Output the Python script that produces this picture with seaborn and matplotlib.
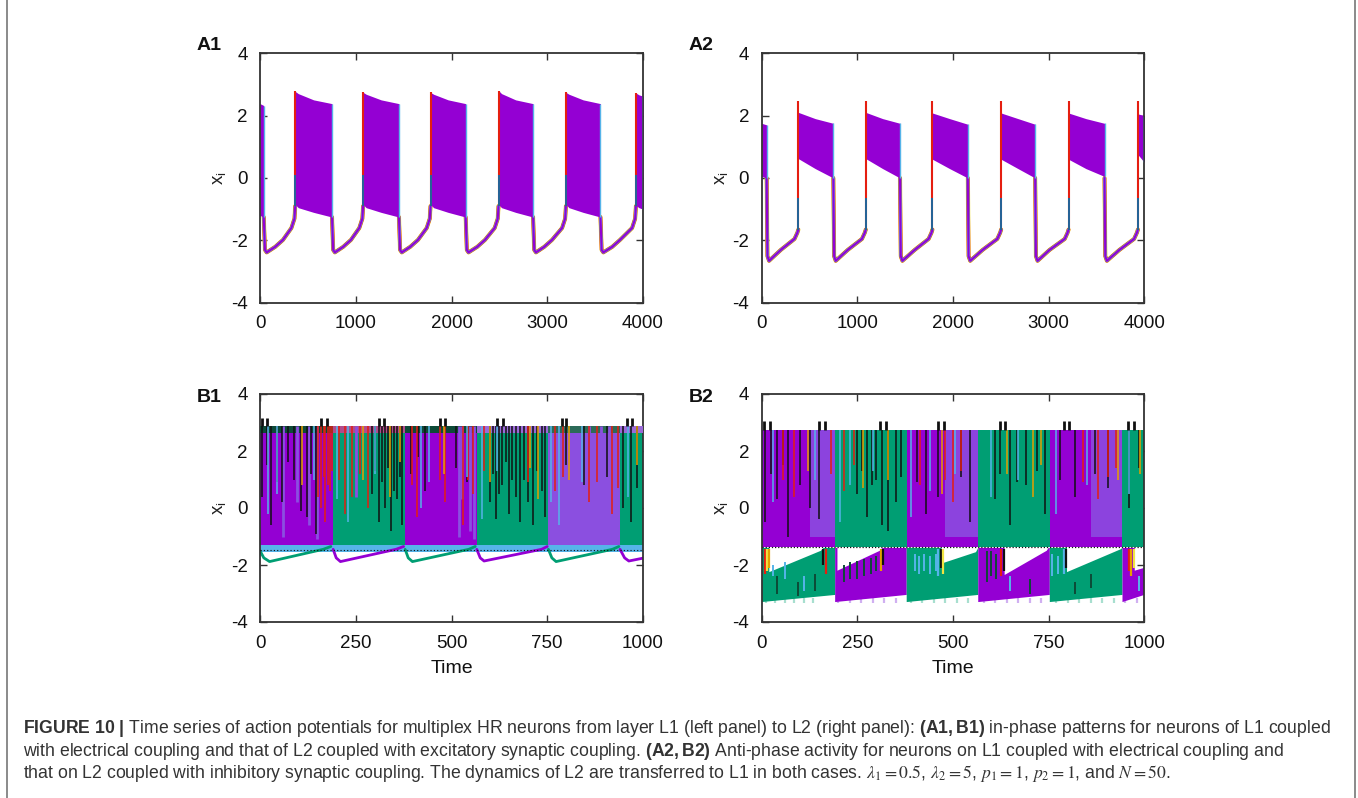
import matplotlib
matplotlib.use("Agg")
import matplotlib.pyplot as plt
import pandas as pd
import seaborn as sns

sns.set_theme(style="ticks")
plt.rcParams["font.family"] = ["Liberation Sans", "DejaVu Sans"]
plt.rcParams["mathtext.fontset"] = "custom"
plt.rcParams["mathtext.rm"] = "Liberation Sans"
plt.rcParams["mathtext.bf"] = "Liberation Sans:bold"
plt.rcParams["mathtext.it"] = "Liberation Sans:italic"

# gnuplot default line colours
PURPLE = "#9400d3"
GREEN = "#009e73"
SKY = "#56b4e9"
ORANGE = "#e69f00"
YELLOW = "#f0e442"
BLUE = "#0072b2"
RED = "#e51e10"
BLACK = "#101010"
LAVENDER = "#8b4fe0"
DARKGREEN = "#0d4a37"
PALEGREEN = "#6fcbb0"
PALEPURPLE = "#b27ae8"

# ---------------- A1: layer L1, electrical coupling (in-phase) ----------------
a1_burst_t = [[0, 39], [368, 400, 560, 752], [1077, 1109, 1265, 1451],
              [1781, 1813, 1965, 2148], [2491, 2523, 2670, 2852],
              [3195, 3227, 3375, 3556], [3926, 3958, 4000]]
a1_burst_top = [[2.38, 2.32], [2.77, 2.70, 2.50, 2.38], [2.74, 2.68, 2.50, 2.38],
                [2.74, 2.68, 2.50, 2.38], [2.80, 2.70, 2.50, 2.38],
                [2.74, 2.68, 2.50, 2.38], [2.72, 2.66, 2.62]]
a1_burst_bot = [[-1.20, -1.25], [-0.85, -0.95, -1.10, -1.25], [-0.85, -0.95, -1.10, -1.25],
                [-0.85, -0.95, -1.10, -1.25], [-0.85, -0.95, -1.10, -1.25],
                [-0.85, -0.95, -1.10, -1.25], [-0.88, -0.95, -1.00]]
a1_rest_t = [[39, 52, 70, 160, 240, 328, 360, 368],
             [752, 764, 782, 870, 950, 1037, 1069, 1077],
             [1451, 1463, 1481, 1570, 1650, 1741, 1773, 1781],
             [2148, 2160, 2178, 2270, 2350, 2451, 2483, 2491],
             [2852, 2864, 2882, 2970, 3050, 3155, 3187, 3195],
             [3556, 3568, 3586, 3680, 3760, 3886, 3918, 3926]]
a1_rest_x = [[-1.25, -2.30, -2.38, -2.20, -1.98, -1.60, -1.30, -0.90]] * 6

# ---------------- A2: layer L1, electrical coupling (anti-phase) ----------------
a2_burst_t = [[0, 52], [383, 560, 749], [1088, 1265, 1446], [1785, 1965, 2155],
              [2503, 2680, 2859], [3208, 3390, 3584], [3933, 4000]]
a2_burst_top = [[1.75, 1.70], [2.10, 1.90, 1.75], [2.10, 1.90, 1.75], [2.08, 1.90, 1.72],
                [2.08, 1.90, 1.72], [2.08, 1.90, 1.75], [2.05, 2.00]]
a2_burst_bot = [[0.05, 0.00], [0.62, 0.30, 0.00], [0.62, 0.30, 0.00], [0.60, 0.30, 0.00],
                [0.60, 0.30, 0.00], [0.60, 0.30, 0.05], [0.75, 0.50]]
a2_onset_peak = 2.45
a2_rest_t = [[52, 60, 77, 200, 343, 373, 383],
             [749, 757, 774, 900, 1048, 1078, 1088],
             [1446, 1454, 1471, 1600, 1745, 1775, 1785],
             [2155, 2163, 2180, 2310, 2463, 2493, 2503],
             [2859, 2867, 2884, 3010, 3168, 3198, 3208],
             [3584, 3592, 3609, 3740, 3893, 3923, 3933]]
a2_rest_x = [[0.00, -2.50, -2.65, -2.30, -1.95, -1.75, -1.65]] * 6

# ---------------- B1: layer L2, excitatory synaptic coupling ----------------
b1_edges = [0, 191, 379, 566, 753, 940, 1000]
b1_fill = [PURPLE, GREEN, PURPLE, GREEN, LAVENDER, GREEN]
b1_cap = [DARKGREEN, "#b04c8c", DARKGREEN, "#9a6ad8", "#2c6b58", "#9a6ad8"]
b1_top, b1_low = 2.88, -1.30
b1_strip = (-1.55, -1.25)
b1_rest_t = [[0, 10, 25, 165, 185], [191, 199, 210, 355, 375], [379, 387, 398, 545, 562],
             [566, 575, 585, 735, 750], [753, 762, 773, 920, 937], [940, 952, 963, 1000]]
b1_rest_x = [[-1.50, -1.75, -1.88, -1.45, -1.35], [-1.45, -1.75, -1.88, -1.45, -1.35],
             [-1.45, -1.75, -1.88, -1.45, -1.35], [-1.45, -1.75, -1.86, -1.45, -1.35],
             [-1.45, -1.75, -1.88, -1.45, -1.35], [-1.45, -1.75, -1.86, -1.76]]
b1_rest_c = [GREEN, PURPLE, GREEN, PURPLE, GREEN, PURPLE]
b1_bump_t = [4, 18, 160, 174, 310, 324, 470, 484, 620, 634, 788, 800, 958, 970]
b1_bump_top = 3.15
b1_dark_t = [6, 18, 30, 44, 58, 74, 90, 106, 122, 134, 146, 292, 300, 310, 318, 326, 334,
             342, 350, 358, 365, 372, 395, 412, 430, 512, 540, 600, 608, 615, 624, 632, 641,
             650, 659, 668, 679, 690, 701, 712, 724, 735, 745, 800, 845, 905, 948, 968, 985]
b1_dark_low = [0.4, 1.5, -0.6, 0.9, 0.2, 1.6, 1.0, -0.1, -0.3, 1.2, -0.9, 0.5, 1.3, -0.5,
               0.9, 0.0, 1.4, -0.8, 0.6, 0.3, 1.1, -0.6, 1.2, 1.8, 0.6, 1.4, 0.9, 0.2, 1.2,
               -0.4, 0.5, 0.8, 1.6, -0.2, 1.0, 0.4, -0.5, 1.0, 0.2, -0.6, 1.3, 0.6, -0.3, 1.5,
               0.8, 1.1, 0.0, -0.5, 0.7]
b1_red_t = [152, 160, 166, 171, 177, 182, 188, 205, 222, 240, 262, 281, 398, 410, 470, 482,
            530, 544, 556, 585, 700, 770, 792, 860, 880, 920, 934]
b1_red_low = [0.4, 0.0, 1.1, -0.5, 0.8, 0.6, 1.3, 1.0, -0.2, 0.4, 1.2, 0.0, 0.8, -0.3, 1.0,
              0.2, -0.6, 1.0, 0.5, 1.3, 0.9, 0.6, 1.1, 0.2, 0.9, -0.2, 0.7]
b1_orange_t = [110, 270, 340, 365, 480, 600, 705, 725, 808, 985]
b1_orange_low = [0.8, 1.0, 0.4, 1.6, 1.2, 0.9, 1.4, 0.3, 1.0, 1.5]
b1_sky_t = [20, 45, 140, 200, 230, 300, 420, 440, 540, 580, 620, 760, 780, 840, 960]
b1_sky_low = [-0.2, 0.5, 1.0, 0.3, -0.5, 1.2, 0.0, 0.9, 1.1, -0.4, 1.3, 0.2, -0.6, 0.9, 0.4]
b1_lav_t = [60, 96, 128, 150, 250, 520, 528, 548, 560, 860, 890, 912]
b1_lav_low = [-1.0, 0.2, -0.6, -1.1, 0.4, -1.0, 0.3, -0.8, -1.1, 0.5, -0.4, 0.1]

# ---------------- B2: layer L2, inhibitory synaptic coupling ----------------
b2_edges = [0, 192, 379, 566, 753, 943, 1000]
b2_fill = [PURPLE, GREEN, PURPLE, GREEN, PURPLE, GREEN]
b2_lower_fill = [GREEN, PURPLE, GREEN, PURPLE, GREEN, PURPLE]
b2_top, b2_mid = 2.72, -1.38
b2_floor_start, b2_floor_end = -3.30, -3.05
# upper edge of the lower band inside each block (white notch = silent neurons)
b2_notch_t = [[0, 20, 20, 155, 162, 192], [192, 198, 198, 309, 316, 379],
              [379, 470, 470, 560, 566, 566], [566, 635, 635, 745, 750, 753],
              [753, 798, 798, 938, 943, 943], [943, 975, 975, 1000, 1000, 1000]]
b2_notch_x = [[-1.40, -1.40, -2.25, -1.50, -1.40, -1.40], [-1.40, -1.40, -2.20, -1.50, -1.40, -1.40],
              [-1.40, -1.40, -1.95, -1.55, -1.40, -1.40], [-1.40, -1.40, -2.35, -1.50, -1.40, -1.40],
              [-1.40, -1.40, -2.25, -1.45, -1.40, -1.40], [-1.40, -1.40, -2.20, -2.10, -1.40, -1.40]]
b2_bump_t = [6, 22, 150, 165, 310, 324, 462, 476, 622, 636, 790, 804, 958, 972]
b2_bump_top = 3.05
b2_loop_t = [8, 14, 20, 160, 168, 312, 318, 462, 468, 474, 626, 632, 790, 796, 960, 966, 972]
b2_loop_c = [RED, YELLOW, ORANGE, BLACK, RED, ORANGE, BLACK, SKY, BLACK, YELLOW,
             RED, BLACK, SKY, BLACK, RED, ORANGE, YELLOW]
b2_loop_low = [-2.3, -2.2, -2.1, -2.0, -2.3, -2.2, -2.0, -2.4, -2.1, -2.3,
               -2.4, -2.2, -2.3, -2.1, -2.2, -2.4, -2.1]
b2_dark_t = [8, 24, 40, 55, 70, 100, 125, 150, 250, 262, 275, 288, 300, 315, 330, 352, 365,
             405, 430, 460, 520, 545, 610, 622, 650, 668, 690, 720, 740, 780, 820, 870, 905,
             960, 985]
b2_dark_low = [-0.5, 1.2, 0.3, 1.5, -1.0, 0.8, 0.0, -0.4, 0.5, 1.3, -0.3, 0.8, 1.0, -0.6,
               -0.8, 0.2, 1.1, 0.9, -0.2, 0.4, 1.1, -0.5, 0.3, 1.2, -0.6, 0.9, 0.8, 1.3,
               -0.2, 1.0, 0.4, 1.2, 0.7, 0.0, 1.4]
b2_red_t = [55, 85, 180, 215, 240, 415, 480, 500, 520, 840, 880, 905, 925]
b2_red_low = [1.0, 0.4, 1.2, 0.6, 1.5, 0.8, 1.0, 0.2, 1.3, 0.9, 0.3, 1.1, 1.4]
b2_orange_t = [120, 265, 330, 470, 640, 710, 730, 930, 990]
b2_orange_low = [1.3, 0.7, 1.0, 0.5, 1.2, 0.4, 1.5, 1.0, 1.2]
b2_sky_t = [30, 140, 205, 230, 290, 390, 440, 505, 600, 670, 770, 850, 960]
b2_sky_low = [0.2, 1.0, -0.5, 0.8, 1.3, -0.3, 0.6, 1.2, 0.4, 1.0, -0.2, 0.8, 0.5]
b2_lav_span = [[125, 192], [480, 566], [860, 943]]
# streaks inside the lower band (bottom, top)
b2_low_dark_t = [40, 95, 140, 215, 232, 250, 268, 285, 300, 590, 600, 612, 700, 820, 860]
b2_low_dark_y = [(-3.0, -2.4), (-3.1, -2.6), (-2.9, -2.3), (-2.6, -2.0), (-2.5, -1.9),
                 (-2.5, -1.85), (-2.4, -1.8), (-2.3, -1.75), (-2.2, -1.7), (-2.6, -1.5),
                 (-2.4, -1.5), (-2.5, -1.6), (-3.0, -2.5), (-3.0, -2.6), (-2.8, -2.3)]
b2_low_sky_t = [30, 60, 110, 400, 410, 425, 440, 455, 650, 760, 775, 985]
b2_low_sky_y = [(-2.4, -2.0), (-2.5, -1.9), (-2.9, -2.4), (-2.2, -1.6), (-2.3, -1.7),
                (-2.2, -1.6), (-2.3, -1.7), (-2.2, -1.6), (-2.9, -2.4), (-2.4, -1.6),
                (-2.3, -1.7), (-2.9, -2.4)]
b2_tip_t = [10, 35, 60, 85, 110, 135, 200, 230, 260, 290, 320, 350, 390, 420, 450, 480,
            510, 540, 580, 610, 640, 670, 700, 730, 770, 800, 830, 860, 890, 920, 950, 980]
b2_tip_c = [PALEGREEN] * 6 + [PALEPURPLE] * 6 + [PALEGREEN] * 6 + [PALEPURPLE] * 6 + \
    [PALEGREEN] * 6 + [PALEPURPLE] * 2

Y_TICKS = [-4, -2, 0, 2, 4]
A_X_TICKS = [0, 1000, 2000, 3000, 4000]
B_X_TICKS = [0, 250, 500, 750, 1000]
PANEL_LABELS = ["A1", "A2", "B1", "B2"]

W, H = 1358, 798
fig = plt.figure(figsize=(W / 100, H / 100), dpi=100)


def axes_px(left, top, right, bottom):
    return fig.add_axes([left / W, 1 - bottom / H, (right - left) / W, (bottom - top) / H])


def style(ax, xticks, xmax, xlabel=None):
    ax.set_xlim(0, xmax)
    ax.set_ylim(-4, 4)
    ax.set_xticks(xticks)
    ax.set_yticks(Y_TICKS)
    ax.set_xticklabels([str(v) for v in xticks])
    ax.set_yticklabels([str(v) for v in Y_TICKS])
    ax.tick_params(direction="in", length=5, width=1.0, color="#333333",
                   top=True, right=True, labelsize=13.5, pad=9, labelcolor="#111111")
    for s in ax.spines.values():
        s.set_visible(True)
        s.set_color("#333333")
        s.set_linewidth(1.3)
    ax.set_ylabel(r"$\mathrm{x}_\mathrm{i}$", fontsize=13.5, labelpad=2, color="#222222")
    if xlabel:
        ax.set_xlabel(xlabel, fontsize=14, labelpad=6, color="#111111")
    else:
        ax.set_xlabel("")
    ax.set_facecolor("white")


def rest_lines(ax, ts, xs, colors_widths):
    frames = []
    for k, (t, x) in enumerate(zip(ts, xs)):
        frames.append(pd.DataFrame({"t": t, "x": x, "seg": k}))
    df = pd.concat(frames, ignore_index=True)
    for c, lw in colors_widths:
        sns.lineplot(data=df, x="t", y="x", units="seg", estimator=None, sort=False,
                     color=c, lw=lw, ax=ax, legend=False)


def bursting_panel(ax, bt, btop, bbot, rt, rx, peak=None):
    rest_lines(ax, rt, rx, [(YELLOW, 3.0), (RED, 2.6), (SKY, 2.1), (PURPLE, 1.5)])
    for t, top, bot in zip(bt, btop, bbot):
        ax.fill_between(t, bot, top, color=PURPLE, lw=0, zorder=2)
        ax.vlines(t[-1], bot[-1], top[-1], color=SKY, lw=1.0, zorder=3)
    # jump from the silent phase into each burst
    onsets = [t[0] for t in bt[1:]]
    starts = [x[-1] for x in rx]
    tops = [peak if peak else top[0] for top in btop[1:]]
    ax.vlines(onsets, starts, tops, color=RED, lw=1.5, zorder=3)
    ax.vlines(onsets, starts, [s + 1.0 for s in starts], color=BLUE, lw=1.2, zorder=3)


# A1
ax = axes_px(260, 53, 643, 303)
bursting_panel(ax, a1_burst_t, a1_burst_top, a1_burst_bot, a1_rest_t, a1_rest_x)
style(ax, A_X_TICKS, 4000)

# A2
ax = axes_px(761.7, 53, 1144.3, 303)
bursting_panel(ax, a2_burst_t, a2_burst_top, a2_burst_bot, a2_rest_t, a2_rest_x,
               peak=a2_onset_peak)
style(ax, A_X_TICKS, 4000)


def spikes(ax, ts, lows, top, color, lw=1.1, z=4):
    ax.vlines(ts, lows, [top] * len(ts), color=color, lw=lw, zorder=z)


# B1
ax = axes_px(260, 394, 643, 622)
ax.fill_between([0, 1000], [b1_strip[0]] * 2, [b1_strip[1]] * 2, color=SKY, lw=0, zorder=1)
for s, e, c, cap in zip(b1_edges[:-1], b1_edges[1:], b1_fill, b1_cap):
    ax.fill_between([s, e], [b1_low] * 2, [b1_top] * 2, color=c, lw=0, zorder=2)
    ax.fill_between([s, e], [b1_top - 0.25] * 2, [b1_top] * 2, color=cap, lw=0, zorder=3)
spikes(ax, b1_lav_t, b1_lav_low, b1_top, LAVENDER, lw=2.0, z=3.5)
spikes(ax, b1_dark_t, b1_dark_low, b1_top, BLACK)
spikes(ax, b1_red_t, b1_red_low, b1_top, RED)
spikes(ax, b1_orange_t, b1_orange_low, b1_top, ORANGE)
spikes(ax, b1_sky_t, b1_sky_low, b1_top, SKY)
ax.hlines(-1.48, 0, 1000, color=BLACK, lw=0.8, linestyles=(0, (1, 2)), zorder=4)
ax.vlines(b1_bump_t, [b1_top] * len(b1_bump_t), b1_bump_top, color=BLACK, lw=2.0, zorder=4)
for t, x, c in zip(b1_rest_t, b1_rest_x, b1_rest_c):
    rest_lines(ax, [t], [x], [(c, 2.0)])
style(ax, B_X_TICKS, 1000, "Time")

# B2
ax = axes_px(761.7, 394, 1144.3, 622)
ax.vlines(b2_tip_t, [-3.32] * len(b2_tip_t), [-3.15] * len(b2_tip_t), colors=b2_tip_c,
          lw=1.6, alpha=0.6, zorder=1.5)
for s, e, c, lc, nt, nx in zip(b2_edges[:-1], b2_edges[1:], b2_fill, b2_lower_fill,
                               b2_notch_t, b2_notch_x):
    ax.fill_between([s, e], [b2_mid] * 2, [b2_top] * 2, color=c, lw=0, zorder=2)
    ax.fill(list(nt) + [e, s], list(nx) + [b2_floor_end, b2_floor_start],
            color=lc, lw=0, zorder=2)
for s, e in b2_lav_span:
    ax.fill_between([s, e], [-1.0] * 2, [b2_top] * 2, color=LAVENDER, lw=0, zorder=2.5,
                    alpha=0.85)
spikes(ax, b2_dark_t, b2_dark_low, b2_top, BLACK)
spikes(ax, b2_red_t, b2_red_low, b2_top, RED)
spikes(ax, b2_orange_t, b2_orange_low, b2_top, ORANGE)
spikes(ax, b2_sky_t, b2_sky_low, b2_top, SKY)
ax.vlines(b2_low_dark_t, [y[0] for y in b2_low_dark_y], [y[1] for y in b2_low_dark_y],
          color=DARKGREEN, lw=1.4, zorder=4)
ax.vlines(b2_low_sky_t, [y[0] for y in b2_low_sky_y], [y[1] for y in b2_low_sky_y],
          color=SKY, lw=1.4, zorder=4)
ax.vlines(b2_loop_t, b2_loop_low, [-1.45] * len(b2_loop_t), colors=b2_loop_c, lw=1.6, zorder=5)
ax.hlines(b2_mid, 0, 1000, color=BLACK, lw=0.9, linestyles=(0, (1, 1.5)), zorder=4)
ax.vlines(b2_bump_t, [b2_top] * len(b2_bump_t), b2_bump_top, color=BLACK, lw=2.0, zorder=4)
style(ax, B_X_TICKS, 1000, "Time")

# panel letters
for lab, (x, y) in zip(PANEL_LABELS, [(197, 45), (689, 45), (197, 397), (689, 397)]):
    fig.text(x / W, 1 - y / H, lab, fontsize=14, fontweight="bold", ha="left", va="center",
             color="#111111")

# frame around figure and caption
fig.add_artist(plt.Line2D([7 / W, 7 / W], [0, 1], color="#777777", lw=1.2))
fig.add_artist(plt.Line2D([1355 / W, 1355 / W], [0, 1], color="#777777", lw=1.2))

cap_color = "#333333"
cap_size = 11.2
line1 = (r"$\mathbf{FIGURE\ 10\ |}$ Time series of action potentials for multiplex HR neurons "
         r"from layer L1 (left panel) to L2 (right panel): $\mathbf{(A1,B1)}$ in-phase patterns "
         r"for neurons of L1 coupled")
line2 = (r"with electrical coupling and that of L2 coupled with excitatory synaptic coupling. "
         r"$\mathbf{(A2,B2)}$ Anti-phase activity for neurons on L1 coupled with electrical "
         r"coupling and")
line3 = (r"that on L2 coupled with inhibitory synaptic coupling. The dynamics of L2 are "
         r"transferred to L1 in both cases. $\lambda_1 = 0.5$, $\lambda_2 = 5$, $p_1 = 1$, "
         r"$p_2 = 1$, and $N = 50$.")
texts = []
for txt, ypx, mf in [(line1, 733, "custom"), (line2, 756, "custom"), (line3, 778, "stix")]:
    texts.append(fig.text(23 / W, 1 - ypx / H, txt, fontsize=cap_size, color=cap_color,
                          va="baseline", math_fontfamily=mf))
# widen the caption so that the first line runs across the frame
renderer = fig.canvas.get_renderer()
w1 = texts[0].get_window_extent(renderer=renderer).width
scale = (1330 - 23) / w1
for t in texts:
    t.set_fontsize(cap_size * scale)

fig.savefig("out.png", dpi=100, facecolor="white")
